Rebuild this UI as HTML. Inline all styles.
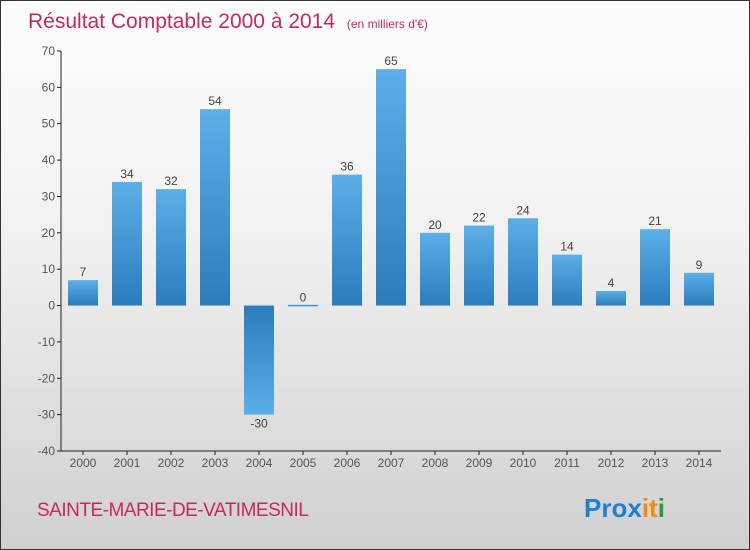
<!DOCTYPE html>
<html><head><meta charset="utf-8"><style>
body{margin:0}
#c{width:750px;height:550px;position:relative;box-sizing:border-box;border:1px solid #333;background:linear-gradient(#fdfdfd,#f2f2f2 40%,#d0d0d0);font-family:"Liberation Sans",sans-serif;overflow:hidden}
</style></head><body>
<div id="c">
<svg width="750" height="550" id="svg" style="position:absolute;left:0;top:0">
<defs>
<linearGradient id="gp" x1="0" y1="0" x2="0" y2="1"><stop offset="0" stop-color="#5dafe9"/><stop offset="1" stop-color="#2a7cbd"/></linearGradient>
<linearGradient id="gn" x1="0" y1="0" x2="0" y2="1"><stop offset="0" stop-color="#2a7cbd"/><stop offset="1" stop-color="#5dafe9"/></linearGradient>
</defs>
<text x="27" y="27" font-size="21" fill="#c8285e">Résultat Comptable 2000 à 2014 <tspan font-size="12" dx="6">(en milliers d'€)</tspan></text>
<text x="36" y="515" font-size="19" fill="#c8285e" letter-spacing="-0.5">SAINTE-MARIE-DE-VATIMESNIL</text>
<text x="583" y="516" font-size="26" font-weight="bold"><tspan fill="#1f7fd3">Pro</tspan><tspan fill="#1f7fd3">x</tspan><tspan fill="#f08a10">i</tspan><tspan fill="#f08a10">t</tspan><tspan fill="#2a9a3a">i</tspan></text>
<g id="g"></g>
</svg>
</div>
<script>
const years=["2000","2001","2002","2003","2004","2005","2006","2007","2008","2009","2010","2011","2012","2013","2014"];
const values=[7,34,32,54,-30,0,36,65,20,22,24,14,4,21,9];
const yTicks=[70,60,50,40,30,20,10,0,-10,-20,-30,-40];
const NS="http://www.w3.org/2000/svg";
const g=document.getElementById('g');
const yMin=-40,yMax=70,top0=50,bot=450,left=60,right=720;
const y=v=>bot-(v-yMin)/(yMax-yMin)*(bot-top0);
const step=(right-left)/years.length;
const x=i=>left+step*(i+0.5);
function el(t,a){const e=document.createElementNS(NS,t);for(const k in a)e.setAttribute(k,a[k]);g.appendChild(e);return e;}
let ax=el('line',{x1:left,y1:top0,x2:left,y2:bot,stroke:'#222'});


let bx=el('line',{x1:left,y1:bot,x2:right,y2:bot,stroke:'#222'});


yTicks.forEach(t=>{
 el('line',{x1:left-4,y1:y(t),x2:left,y2:y(t),stroke:'#222'});
 const tx=el('text',{x:left-6,y:y(t)+4,'font-size':12,fill:'#555','text-anchor':'end'});
 tx.textContent=t;
 
 
});
years.forEach((yr,i)=>{
 const cx=x(i),v=values[i];
 el('line',{x1:cx,y1:bot,x2:cx,y2:bot+4,stroke:'#222'});
 const tl=el('text',{x:cx,y:bot+16,'font-size':12,fill:'#555','text-anchor':'middle'});
 tl.textContent=yr;
 
 
 const y0=y(0),yv=y(v);
 const h=Math.max(Math.abs(yv-y0),1.5);
 const r=el('rect',{x:cx-15,y:v>=0?Math.min(yv,y0-0.75):y0,width:30,height:h,fill:v>=0?'url(#gp)':'url(#gn)'});
 
 
 const lb=el('text',{x:cx,y:v>=0?yv-4:yv+13,'font-size':12,fill:'#444','text-anchor':'middle'});
 lb.textContent=v;
 
 
});
</script>
</body></html>
